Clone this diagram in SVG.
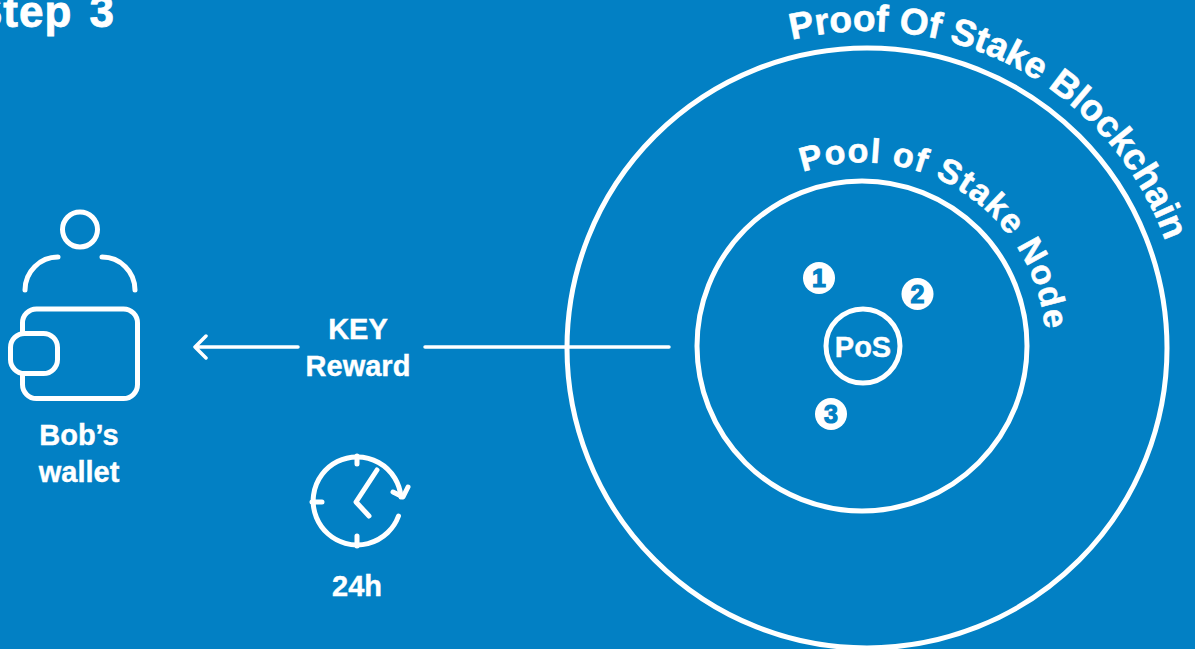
<svg xmlns="http://www.w3.org/2000/svg" xmlns:xlink="http://www.w3.org/1999/xlink" width="1195" height="649" viewBox="0 0 1195 649">
<style>
.l{fill:none;stroke:#fff;stroke-width:5;stroke-linecap:round;stroke-linejoin:round}
.t{font-family:"Liberation Sans",Arial,sans-serif;font-weight:700;fill:#fff;stroke:#fff;stroke-width:.4;text-anchor:middle;font-size:29px}
.c{font-family:"Liberation Sans",Arial,sans-serif;font-weight:700;font-size:37px;fill:#fff;stroke:#fff;stroke-width:.6}
.n{font-family:"Liberation Sans",Arial,sans-serif;font-weight:700;fill:#0280c4;text-anchor:middle;font-size:25px;stroke:#0280c4;stroke-width:1.2}
</style>
<defs>
<path id="p1" d="M 792 40 A 317 317 0 0 1 1184 348"/>
<path id="p2" d="M 803 172 A 184 184 0 0 1 1043 378"/>
</defs>
<rect width="1195" height="649" fill="#0280c4"/>
<text x="-27" y="27" font-family="'Liberation Sans',Arial,sans-serif" font-weight="700" font-size="44" letter-spacing="1" word-spacing="4" fill="#fff" stroke="#fff" stroke-width=".8">Step 3</text>
<g id="connectors">
<path class="l" style="stroke-width:3.5" d="M298 347H195M206 336L195 347L206 358"/>
<path class="l" style="stroke-width:3.5" d="M425 347H669"/>
</g>
<g id="blockchain">
<circle cx="867" cy="348" r="300" class="l"/>
<text class="c"><textPath xlink:href="#p1" href="#p1">Proof Of Stake Blockchain</textPath></text>
</g>
<g id="pool">
<circle cx="862" cy="346" r="165" class="l"/>
<text class="c" style="font-size:34px;letter-spacing:1.25px"><textPath xlink:href="#p2" href="#p2">Pool of Stake Node</textPath></text>
</g>
<g id="pos">
<circle cx="863" cy="346" r="37" class="l"/>
<text class="t" x="863" y="357">PoS</text>
</g>
<g id="n1"><circle cx="819" cy="278" r="16" fill="#fff"/><text class="n" x="819" y="287">1</text></g>
<g id="n2"><circle cx="917.500" cy="294" r="16" fill="#fff"/><text class="n" x="917.500" y="303">2</text></g>
<g id="n3"><circle cx="831" cy="414" r="16" fill="#fff"/><text class="n" x="831" y="423">3</text></g>
<g id="reward">
<text class="t" x="358" y="339">KEY</text>
<text class="t" x="358" y="376">Reward</text>
</g>
<g id="wallet">
<circle cx="80" cy="229.500" r="17.500" class="l"/>
<path class="l" d="M25 290A33 33 0 0 1 58 257M102 257A33 33 0 0 1 135 290"/>
<path class="l" d="M22.500 333V323A14 14 0 0 1 36.500 309H123.500A14 14 0 0 1 137.500 323V384.500A14 14 0 0 1 123.500 398.500H36.500A14 14 0 0 1 22.500 384.500V373.500"/>
<rect x="10.500" y="333.500" width="47" height="40" rx="14" class="l"/>
<text class="t" x="79" y="445">Bob’s</text>
<text class="t" x="79" y="482">wallet</text>
</g>
<g id="clock">
<path class="l" d="M398.500 516A44 44 0 1 1 401 497"/>
<path class="l" d="M357 456V464M357 536V546M312 502H322M377 470L356 502L369 516M393 492L403 497L408 487"/>
<text class="t" x="357" y="596">24h</text>
</g>
</svg>
